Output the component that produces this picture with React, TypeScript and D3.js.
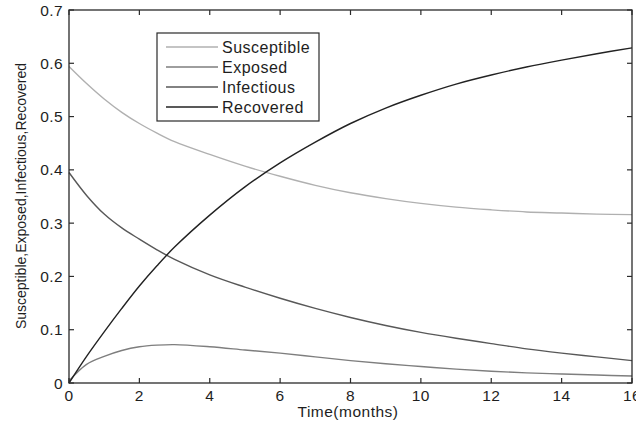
import React from "react";
import * as d3 from "d3";

const time = [0, 0.5, 1, 1.5, 2, 2.5, 3, 4, 5, 6, 7, 8, 9, 10, 11, 12, 13, 14, 15, 16];
const susceptible = [0.594, 0.562, 0.533, 0.508, 0.487, 0.469, 0.453, 0.429, 0.407, 0.388, 0.371, 0.357, 0.346, 0.337, 0.33, 0.325, 0.321, 0.319, 0.317, 0.316];
const exposed = [0.004, 0.035, 0.05, 0.061, 0.068, 0.071, 0.072, 0.068, 0.062, 0.056, 0.049, 0.042, 0.036, 0.031, 0.026, 0.022, 0.019, 0.017, 0.015, 0.013];
const infectious = [0.395, 0.352, 0.317, 0.291, 0.27, 0.25, 0.232, 0.203, 0.18, 0.159, 0.14, 0.123, 0.108, 0.095, 0.084, 0.074, 0.064, 0.056, 0.049, 0.042];
const recovered = [0.0, 0.05, 0.096, 0.14, 0.182, 0.22, 0.255, 0.315, 0.368, 0.413, 0.452, 0.487, 0.516, 0.54, 0.561, 0.578, 0.593, 0.606, 0.618, 0.629];

const seriesNames = ["Susceptible", "Exposed", "Infectious", "Recovered"];
const seriesValues = [susceptible, exposed, infectious, recovered];
const seriesColors = ["#b0b0b0", "#7e7e7e", "#585858", "#222222"];

const xTicks = [0, 2, 4, 6, 8, 10, 12, 14, 16];
const yTicks = [0, 0.1, 0.2, 0.3, 0.4, 0.5, 0.6, 0.7];
const xLabel = "Time(months)";
const yLabel = "Susceptible,Exposed,Infectious,Recovered";

export default function App() {
  const left = 69, right = 632, top = 10, bottom = 383;
  const x = d3.scaleLinear().domain([0, 16]).range([left, right]);
  const y = d3.scaleLinear().domain([0, 0.7]).range([bottom, top]);
  const font = "Arial, 'Liberation Sans', sans-serif";
  const textColor = "#1e1e1e";
  const axisColor = "#2a2a2a";

  const line = (vals: number[]) =>
    d3
      .line<number>()
      .x((_, i) => x(time[i]))
      .y((d) => y(d))
      .curve(d3.curveCatmullRom.alpha(0.5))(vals) as string;

  const legendX = 157, legendY = 33, legendW = 162, legendH = 88;
  const rowY = (i: number) => 47 + i * 20;

  return (
    <svg
      width={636}
      height={425}
      style={{ position: "absolute", left: 0, top: 0, background: "#fff" }}
    >
      <rect x={0} y={0} width={636} height={425} fill="#fff" />
      {seriesValues.map((vals, i) => (
        <path key={seriesNames[i]} d={line(vals)} fill="none" stroke={seriesColors[i]} strokeWidth={1.4} />
      ))}
      <rect x={left} y={top} width={right - left} height={bottom - top} fill="none" stroke={axisColor} strokeWidth={1.3} />
      {xTicks.map((t) => (
        <g key={"x" + t}>
          <line x1={x(t)} x2={x(t)} y1={bottom} y2={bottom - 5} stroke={axisColor} strokeWidth={1.2} />
          <line x1={x(t)} x2={x(t)} y1={top} y2={top + 5} stroke={axisColor} strokeWidth={1.2} />
          <text x={x(t)} y={401} textAnchor="middle" fontFamily={font} fontSize={15.5} letterSpacing={0.4} fill={textColor}>
            {t}
          </text>
        </g>
      ))}
      {yTicks.map((t) => (
        <g key={"y" + t}>
          <line x1={left} x2={left + 5} y1={y(t)} y2={y(t)} stroke={axisColor} strokeWidth={1.2} />
          <line x1={right} x2={right - 5} y1={y(t)} y2={y(t)} stroke={axisColor} strokeWidth={1.2} />
          <text x={63} y={y(t) + 5.5} textAnchor="end" fontFamily={font} fontSize={15.5} letterSpacing={0.4} fill={textColor}>
            {t === 0 ? "0" : t.toFixed(1)}
          </text>
        </g>
      ))}
      <text x={348} y={417} textAnchor="middle" fontFamily={font} fontSize={15.5} letterSpacing={0.5} fill={textColor}>
        {xLabel}
      </text>
      <text
        transform={`translate(26, 196) rotate(-90)`}
        textAnchor="middle"
        fontFamily={font}
        fontSize={14}
        fill={textColor}
      >
        {yLabel}
      </text>
      <rect x={legendX} y={legendY} width={legendW} height={legendH} fill="#fff" stroke={axisColor} strokeWidth={1.2} />
      {seriesNames.map((name, i) => (
        <g key={"lg" + name}>
          <line x1={166} x2={218} y1={rowY(i)} y2={rowY(i)} stroke={seriesColors[i]} strokeWidth={1.4} />
          <text x={222} y={rowY(i) + 5.5} fontFamily={font} fontSize={16} letterSpacing={0.5} fill={textColor}>
            {name}
          </text>
        </g>
      ))}
    </svg>
  );
}
